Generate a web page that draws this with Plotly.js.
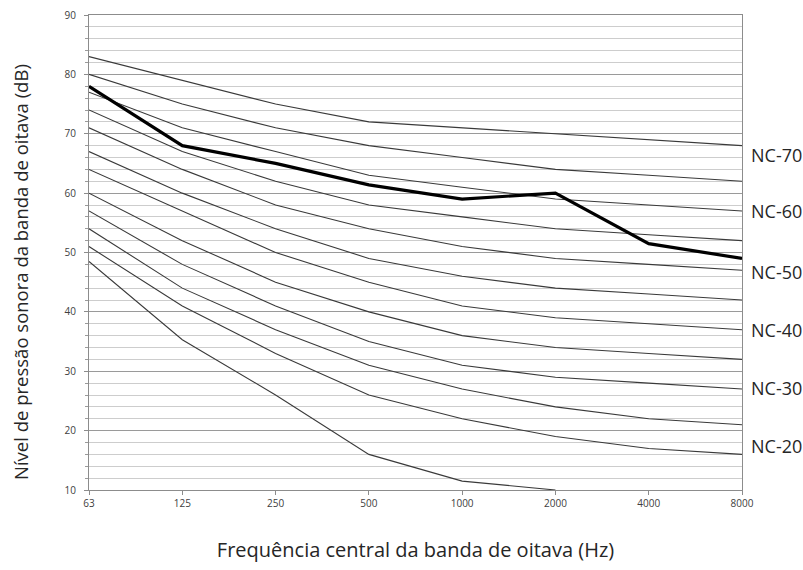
<!DOCTYPE html>
<html>
<head>
<meta charset="utf-8">
<script src="https://cdn.plot.ly/plotly-3.0.1.min.js"></script>
<style>
html,body{margin:0;padding:0;background:#fff;}
#chart{width:803px;height:570px;}
</style>
</head>
<body>
<div id="chart"></div>
<script>
// Octave band centre frequencies (Hz)
const frequencies = ['63', '125', '250', '500', '1000', '2000', '4000', '8000'];

// NC reference curves (dB)
const nc70 = [83, 79, 75, 72, 71, 70, 69, 68];
const nc65 = [80, 75, 71, 68, 66, 64, 63, 62];
const nc60 = [77, 71, 67, 63, 61, 59, 58, 57];
const nc55 = [74, 67, 62, 58, 56, 54, 53, 52];
const nc50 = [71, 64, 58, 54, 51, 49, 48, 47];
const nc45 = [67, 60, 54, 49, 46, 44, 43, 42];
const nc40 = [64, 57, 50, 45, 41, 39, 38, 37];
const nc35 = [60, 52, 45, 40, 36, 34, 33, 32];
const nc30 = [57, 48, 41, 35, 31, 29, 28, 27];
const nc25 = [54, 44, 37, 31, 27, 24, 22, 21];
const nc20 = [51, 41, 33, 26, 22, 19, 17, 16];
const lowest = [48.5, 35.3, 26, 16, 11.5, 10, null, null];

// Measured spectrum (thick line)
const measured = [78, 68, 65, 61.4, 59, 60, 51.5, 49];

// Right-hand curve labels
const curveLabels = ['NC-70', 'NC-60', 'NC-50', 'NC-40', 'NC-30', 'NC-20'];

// Axis titles
const xTitle = 'Frequência central da banda de oitava (Hz)';
const yTitle = 'Nível de pressão sonora da banda de oitava (dB)';

const ncSeries = [nc70, nc65, nc60, nc55, nc50, nc45, nc40, nc35, nc30, nc25, nc20, lowest];
const ncNames = ['NC-70', 'NC-65', 'NC-60', 'NC-55', 'NC-50', 'NC-45', 'NC-40', 'NC-35', 'NC-30', 'NC-25', 'NC-20', 'NC-15'];

const traces = ncSeries.map((vals, i) => ({
  type: 'scatter', mode: 'lines',
  x: frequencies, y: vals, name: ncNames[i],
  line: {color: '#3a3a3a', width: 1.1},
  connectgaps: false,
  hoverinfo: 'skip'
}));
traces.push({
  type: 'scatter', mode: 'lines',
  x: frequencies, y: measured, name: 'Medido',
  line: {color: '#000000', width: 3.2},
  hoverinfo: 'skip'
});

// layout geometry (pixels)
const H = 570, T = 15, B = 80, L = 89, R = 61, W = 803;
const PH = H - T - B, PW = W - L - R;
const labelPix = [154.5, 211, 272, 330, 387.5, 445.5];
const annotations = curveLabels.map((t, i) => ({
  text: t, xref: 'paper', yref: 'paper',
  x: 1, xanchor: 'left', xshift: 7,
  y: 1 - (labelPix[i] - T) / PH, yanchor: 'middle',
  showarrow: false,
  font: {family: 'Open Sans, sans-serif', size: 18, color: '#262626'}
}));
// y-axis title (placed as rotated annotation to match reference position)
annotations.push({
  text: yTitle, xref: 'paper', yref: 'paper',
  x: (20 - L) / PW, xanchor: 'center',
  y: 1 - (272 - T) / PH, yanchor: 'middle',
  textangle: -90, showarrow: false,
  font: {family: 'Open Sans, sans-serif', size: 18.5, color: '#262626'}
});

const layout = {
  width: 803, height: 570,
  margin: {l: L, r: R, t: T, b: B},
  paper_bgcolor: '#ffffff', plot_bgcolor: '#ffffff',
  showlegend: false,
  hovermode: false,
  font: {family: 'Open Sans, sans-serif', color: '#404040'},
  xaxis: {
    type: 'category',
    range: [0, frequencies.length - 1],
    showgrid: false,
    zeroline: false,
    showline: true, linecolor: '#8c8c8c', linewidth: 1,
    mirror: true,
    ticks: 'outside', ticklen: 4, tickcolor: '#8c8c8c',
    tickfont: {size: 10, color: '#404040'},
    title: {text: xTitle, standoff: 33,
            font: {size: 20, color: '#262626'}}
  },
  yaxis: {
    range: [10, 90],
    dtick: 10, tick0: 10,
    showgrid: true, gridcolor: '#9a9a9a', gridwidth: 1,
    zeroline: false,
    showline: true, linecolor: '#8c8c8c', linewidth: 1,
    mirror: true,
    ticks: 'outside', ticklen: 4, tickcolor: '#8c8c8c',
    ticklabelstandoff: 6,
    tickfont: {size: 10, color: '#404040'},
    minor: {dtick: 2, showgrid: true, gridcolor: '#cdcdcd', gridwidth: 1,
            ticks: 'outside', ticklen: 3, tickcolor: '#9a9a9a'}
  },
  annotations: annotations
};

Plotly.newPlot('chart', traces, layout, {staticPlot: true, displayModeBar: false});
</script>
</body>
</html>
